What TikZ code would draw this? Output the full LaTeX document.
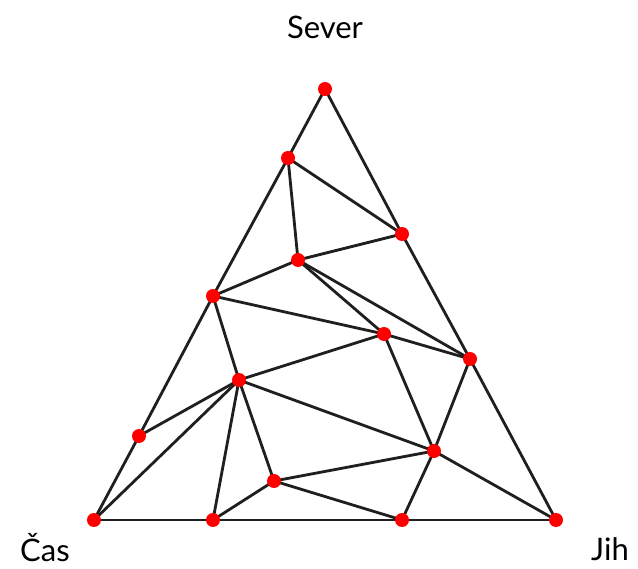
\documentclass[tikz,border=0pt]{standalone}
\usepackage{fontspec}
\setmainfont{Lato}
\begin{document}
\begin{tikzpicture}[x=1pt,y=-1pt,
  edge/.style={line width=2.8pt, draw=black!88, line cap=round},
  pt/.style={circle, fill=red, inner sep=0pt, minimum size=14pt},
  lab/.style={font=\fontsize{31}{34}\selectfont, text=black, inner sep=0pt}]
\useasboundingbox (0,0) rectangle (638,569);
\fill[white] (0,0) rectangle (638,569);
\coordinate (A) at (325,89);
\coordinate (B) at (288,158);
\coordinate (C) at (402,234);
\coordinate (D) at (298,260);
\coordinate (E) at (213,296);
\coordinate (F) at (384,334);
\coordinate (G) at (470,359);
\coordinate (H) at (239,380);
\coordinate (I) at (139,436);
\coordinate (J) at (434,451);
\coordinate (K) at (274,481);
\coordinate (L) at (94,520);
\coordinate (M) at (213,520);
\coordinate (N) at (402,520);
\coordinate (O) at (556,520);
\foreach \a/\b in {A/B,B/E,E/I,I/L,A/C,C/G,G/O,L/M,M/N,N/O,
  B/C,B/D,D/C,D/E,D/F,D/G,E/F,E/H,H/F,F/G,F/J,G/J,H/J,H/I,H/L,H/M,H/K,
  K/M,K/N,K/J,J/N,J/O}
  \draw[edge] (\a) -- (\b);
\foreach \p in {A,B,C,D,E,F,G,H,I,J,K,L,M,N,O}
  \node[pt] (n\p) at (\p) {};
\node[lab] (sever) at (325,27) {Sever};
\node[lab] (cas) at (45,548) {Čas};
\node[lab] (jih) at (610,549) {Jih};
\end{tikzpicture}
\end{document}
